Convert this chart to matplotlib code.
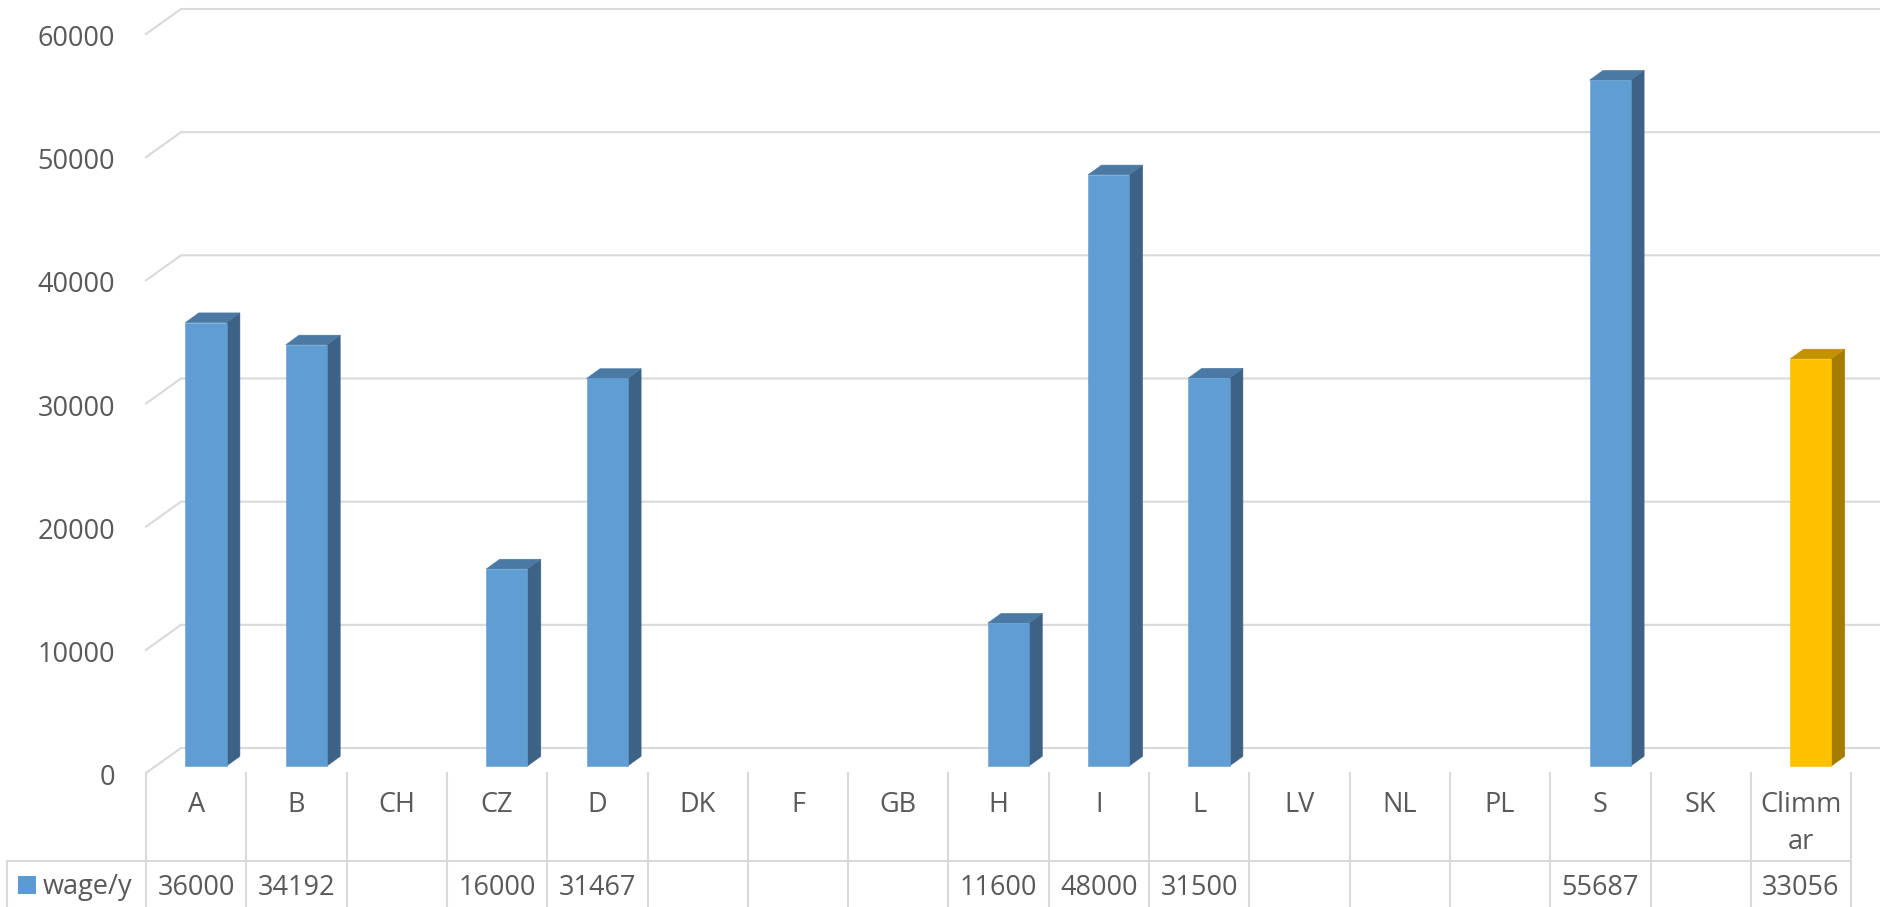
import textwrap

import matplotlib
matplotlib.use("Agg")
import matplotlib.pyplot as plt
from matplotlib.lines import Line2D
from matplotlib.patches import Polygon, Rectangle
from matplotlib.transforms import IdentityTransform

plt.rcParams["font.family"] = ["Open Sans", "DejaVu Sans"]

# ---------------------------------------------------------------------
# Data
# ---------------------------------------------------------------------
categories = ["A", "B", "CH", "CZ", "D", "DK", "F", "GB", "H", "I", "L",
              "LV", "NL", "PL", "S", "SK", "Climmar"]
wage = [36000, 34192, None, 16000, 31467, None, None, None, 11600, 48000,
        31500, None, None, None, 55687, None, 33056]
highlight = "Climmar"
series_name = "wage/y"
yticks = [0, 10000, 20000, 30000, 40000, 50000, 60000]

# ---------------------------------------------------------------------
# Style
# ---------------------------------------------------------------------
W, H, DPI = 1880, 907, 100
TEXT = "#595959"
GRID = "#D9D9D9"
FS = 19.5
BLUE = ("#5F9DD3", "#3E6286", "#4A79A4")   # front, side, top
GOLD = ("#FFC000", "#A57C00", "#C49100")

# pseudo-3D depth offsets (pixels, y up) measured from the back wall
FRONT = (-35.0, -25.0)
BAR_FRONT = (-25.2, -18.0)
BAR_BACK = (-11.8, -8.3)
BAR_W = 0.41

n = len(categories)
CAT_PX = 100.3
LEFT_PX, FLOOR_PX, TOP_PX = 181, 748, 9

fig = plt.figure(figsize=(W / DPI, H / DPI), dpi=DPI)
ax = fig.add_axes([LEFT_PX / W, (H - FLOOR_PX) / H,
                   n * CAT_PX / W, (FLOOR_PX - TOP_PX) / H])
ax.set_xlim(0, n)
ax.set_ylim(yticks[0], yticks[-1])
ax.axis("off")

PIX = IdentityTransform()


def px(x, y, depth=(0.0, 0.0)):
    """Data point on the back wall, pushed forward by a depth offset."""
    dx, dy = ax.transData.transform((x, y))
    return dx + depth[0], dy + depth[1]


def poly(points, color):
    ax.add_patch(Polygon(points, closed=True, transform=PIX, facecolor=color,
                         edgecolor=color, lw=0.4, clip_on=False, zorder=3))


# gridlines: back wall + diagonal on the left side wall
for v in yticks:
    fr = px(0, v, FRONT)
    b0 = px(0, v)
    b1 = px(n, v)
    ax.add_line(Line2D([fr[0], b0[0], b1[0]], [fr[1], b0[1], b1[1]],
                       transform=PIX, color=GRID, lw=1.5, clip_on=False,
                       zorder=1))
    ax.text(115, fr[1] - 12, f"{v}", transform=PIX, ha="right",
            va="baseline", fontsize=FS, color=TEXT)

# bars
for i, (cat, v) in enumerate(zip(categories, wage)):
    if v is None:
        continue
    front, side, top = GOLD if cat == highlight else BLUE
    x0, x1 = i + (1 - BAR_W) / 2, i + (1 + BAR_W) / 2
    poly([px(x1, 0, BAR_FRONT), px(x1, 0, BAR_BACK),
          px(x1, v, BAR_BACK), px(x1, v, BAR_FRONT)], side)
    poly([px(x0, v, BAR_FRONT), px(x1, v, BAR_FRONT),
          px(x1, v, BAR_BACK), px(x0, v, BAR_BACK)], top)
    poly([px(x0, 0, BAR_FRONT), px(x1, 0, BAR_FRONT),
          px(x1, v, BAR_FRONT), px(x0, v, BAR_FRONT)], front)

# data table under the floor
floor_y = px(0, 0, FRONT)[1]
row_y = H - 861
right_x = px(n, 0, FRONT)[0]
for i in range(n + 1):
    x = px(i, 0, FRONT)[0]
    ax.add_line(Line2D([x, x], [floor_y, 0], transform=PIX, color=GRID,
                       lw=1.5, clip_on=False))
ax.add_line(Line2D([7, right_x], [row_y, row_y], transform=PIX, color=GRID,
                   lw=1.5, clip_on=False))
ax.add_line(Line2D([7, 7], [row_y, 0], transform=PIX, color=GRID,
                   lw=1.5, clip_on=False))

for i, (cat, v) in enumerate(zip(categories, wage)):
    cx = px(i + 0.5, 0, FRONT)[0]
    label = "\n".join(textwrap.wrap(cat, 5))
    ax.text(cx, H - 791, label, transform=PIX, ha="center", va="top",
            fontsize=FS, color=TEXT, linespacing=1.45)
    if v is not None:
        ax.text(cx, H - 895, f"{v}", transform=PIX, ha="center",
                va="baseline", fontsize=FS, color=TEXT)

ax.add_patch(Rectangle((18, H - 894), 18, 18, transform=PIX,
                       facecolor="#5B9BD5", edgecolor="none", clip_on=False))
ax.text(43, H - 894, series_name, transform=PIX, ha="left", va="baseline",
        fontsize=FS, color=TEXT)

fig.savefig("out.png", dpi=DPI, facecolor="white")
